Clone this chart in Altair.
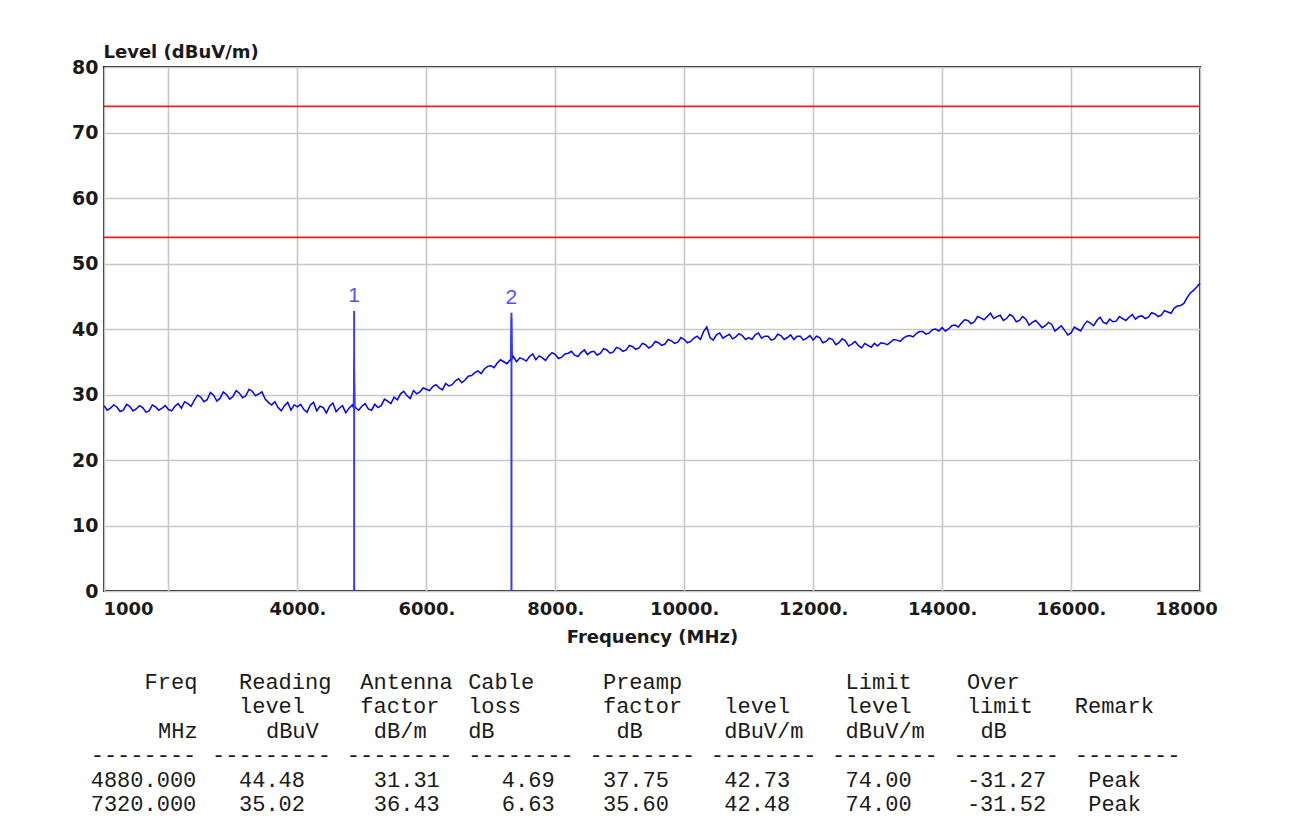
import altair as alt
import pandas as pd

# ---------------- data ----------------
sweep_start = 1000
sweep_step = 100
trace_level = [
    28.3, 27.9, 28.1, 27.6, 28.2, 27.8, 28.0, 27.5, 28.1, 27.9,   # 1000-1900
    27.7, 28.2, 27.9, 28.6, 29.1, 29.6, 29.2, 29.9, 29.4, 30.0,   # 2000-2900
    29.7, 30.2, 29.8, 30.5, 30.1, 29.3, 28.4, 28.0, 28.3, 27.6,   # 3000-3900
    28.1, 27.7, 28.4, 27.5, 28.0, 28.2, 27.4, 28.3, 27.9, 28.0,   # 4000-4900
    28.2, 27.8, 28.5, 28.3, 29.0, 29.6, 30.1, 29.8, 30.6, 30.4,   # 5000-5900
    30.8, 31.2, 31.0, 31.7, 31.5, 32.4, 32.2, 32.9, 33.6, 33.9,   # 6000-6900
    34.4, 34.8, 35.0, 35.3, 35.0, 35.4, 35.8, 35.3, 35.6, 35.9,   # 7000-7900
    36.1, 35.7, 36.3, 36.0, 36.4, 36.1, 36.6, 36.3, 36.8, 36.5,   # 8000-8900
    37.0, 36.8, 37.3, 37.1, 37.6, 37.4, 37.9, 37.7, 38.2, 38.0,   # 9000-9900
    38.4, 38.1, 38.9, 39.6, 38.7, 39.1, 38.6, 39.2, 38.8, 39.0,   # 10000-10900
    38.7, 39.1, 38.6, 38.9, 38.5, 39.0, 38.7, 38.4, 38.9, 38.6,   # 11000-11900
    38.3, 38.7, 38.1, 38.4, 37.9, 38.2, 37.7, 37.5, 37.8, 37.2,   # 12000-12900
    37.4, 37.8, 38.0, 38.3, 38.6, 39.0, 39.3, 39.6, 39.4, 40.0,   # 13000-13900
    40.2, 40.0, 40.6, 40.9, 41.3, 41.1, 41.7, 41.9, 41.6, 42.1,   # 14000-14900
    41.6, 41.9, 41.3, 41.5, 41.0, 40.8, 40.5, 40.7, 40.1, 39.8,   # 15000-15900
    39.4, 40.0, 40.6, 40.9, 41.3, 41.0, 41.5, 41.2, 41.6, 41.8,   # 16000-16900
    41.5, 42.0, 41.8, 42.3, 42.1, 42.6, 43.2, 43.6, 44.8, 45.9,   # 17000-17900
    47.0,                                                         # 18000
]
mid_start = 1050
trace_level_mid = [
    27.6, 28.4, 27.4, 28.5, 27.5, 28.3, 27.3, 28.4, 27.6, 28.3,   # 1050-1950
    27.5, 28.6, 28.9, 28.2, 29.9, 28.9, 30.3, 29.0, 30.4, 29.3,   # 2050-2950
    30.6, 29.5, 30.8, 29.8, 30.4, 28.8, 28.9, 27.5, 28.8, 28.4,   # 3050-3950
    28.5, 27.3, 28.8, 28.2, 27.2, 28.7, 27.9, 27.2, 28.4, 27.6,   # 4050-4950
    28.6, 27.6, 28.0, 29.3, 28.6, 29.2, 30.5, 29.4, 30.1, 31.0,   # 5050-5950
    30.6, 31.5, 30.7, 31.3, 32.1, 31.8, 32.8, 33.3, 33.2, 34.3,   # 6050-6950
    34.1, 35.3, 34.7, 35.8, 35.6, 35.1, 36.2, 35.9, 35.2, 36.4,   # 7050-7950
    35.5, 36.2, 36.6, 35.8, 36.8, 36.5, 36.0, 37.0, 36.3, 37.2,   # 8050-8950
    36.6, 37.5, 36.9, 37.8, 37.1, 38.1, 37.5, 38.4, 37.8, 38.7,   # 9050-9950
    37.9, 38.6, 38.4, 40.3, 38.3, 39.4, 38.9, 38.5, 39.3, 38.4,   # 10050-10950
    38.4, 39.4, 38.9, 38.3, 39.2, 38.4, 39.1, 38.9, 38.3, 39.0,   # 11050-11950
    38.9, 37.9, 38.6, 37.6, 38.5, 37.4, 38.1, 37.1, 37.5, 37.8,   # 12050-12950
    37.9, 37.6, 38.4, 38.1, 38.9, 38.8, 39.6, 39.2, 39.9, 39.7,   # 13050-13950
    39.7, 40.5, 40.3, 41.4, 40.8, 41.9, 41.4, 42.4, 41.9, 41.3,   # 14050-14950
    42.2, 41.1, 41.9, 40.6, 41.3, 40.2, 41.0, 39.7, 40.5, 39.1,   # 15050-15950
    40.3, 39.7, 41.2, 40.5, 41.8, 40.8, 41.1, 41.9, 41.3, 42.2,   # 16050-16950
    41.9, 41.6, 42.5, 41.9, 42.8, 42.4, 43.5, 43.9, 45.5, 46.4,   # 17050-17950
]
spike_freq = [4870, 4880, 4890, 7310, 7320, 7330]
spike_level = [28.0, 35.5, 28.2, 35.2, 41.7, 35.5]

marker_freq = [4880.0, 7320.0]
marker_level = [42.73, 42.48]
marker_label = ["1", "2"]

limit_level = [74.0, 54.0]

x_ticks = [1000, 2000, 4000, 6000, 8000, 10000, 12000, 14000, 16000, 18000]
x_tick_labels = ["1000", "", "4000.", "6000.", "8000.", "10000.", "12000.",
                 "14000.", "16000.", "18000"]
y_ticks = [0, 10, 20, 30, 40, 50, 60, 70, 80]

# table below the plot (text, character column) per row
table_rows = [
    [("Freq", 4), ("Reading", 11), ("Antenna", 20), ("Cable", 28), ("Preamp", 38),
     ("Limit", 56), ("Over", 65)],
    [("level", 11), ("factor", 20), ("loss", 28), ("factor", 38), ("level", 47),
     ("level", 56), ("limit", 65), ("Remark", 73)],
    [("MHz", 5), ("dBuV", 13), ("dB/m", 21), ("dB", 28), ("dB", 39), ("dBuV/m", 47),
     ("dBuV/m", 56), ("dB", 66)],
    [("--------", 0), ("---------", 9), ("--------", 19), ("--------", 28),
     ("--------", 37), ("--------", 46), ("--------", 55), ("--------", 64),
     ("--------", 73)],
    [("4880.000", 0), ("44.48", 11), ("31.31", 21), ("4.69", 30.5), ("37.75", 38),
     ("42.73", 47), ("74.00", 56), ("-31.27", 65), ("Peak", 74)],
    [("7320.000", 0), ("35.02", 11), ("36.43", 21), ("6.63", 30.5), ("35.60", 38),
     ("42.48", 47), ("74.00", 56), ("-31.52", 65), ("Peak", 74)],
]

# ---------------- layout ----------------
PLOT_W, PLOT_H = 1096, 524
TABLE_X0 = -13.3       # left of first character column, relative to plot
CHAR_W = 13.48
TABLE_Y0 = 615        # centre of the first table row, relative to plot top
ROW_H = 24.4

# ---------------- frames ----------------
trace = pd.DataFrame({
    "freq": [sweep_start + i * sweep_step for i in range(len(trace_level))]
            + [mid_start + i * sweep_step for i in range(len(trace_level_mid))]
            + spike_freq,
    "level": trace_level + trace_level_mid + spike_level,
}).sort_values("freq")

markers = pd.DataFrame({"freq": marker_freq, "level": marker_level,
                        "label": marker_label, "zero": [0.0] * len(marker_freq)})
limits = pd.DataFrame({"level": limit_level})

cells = []
for r, row in enumerate(table_rows):
    for text, col in row:
        cells.append({"text": text,
                      "px": TABLE_X0 + col * CHAR_W,
                      "py": TABLE_Y0 + r * ROW_H})
table = pd.DataFrame(cells)

label_expr = "".join(
    f"datum.value == {v} ? '{l}' : " for v, l in zip(x_ticks, x_tick_labels)
) + "''"

AXIS_FONT = "DejaVu Sans"

x_scale = alt.Scale(domain=[1000, 18000], nice=False, zero=False)
y_scale = alt.Scale(domain=[0, 80], nice=False)

x_axis = alt.Axis(
    values=x_ticks, labelExpr=label_expr, labelFlush=False,
    labelOffset={"expr": "datum.value == 1000 ? 24 : datum.value == 18000 ? -14 : 0"},
    labelFont=AXIS_FONT, labelFontWeight="bold", labelFontSize=18, labelColor="#1a1a1a",
    labelPadding=9, labelAlign="center", labelBaseline="top",
    ticks=False, tickSize=0, domain=False,
    grid=True, gridColor="#c8c8c8", gridWidth=1.6,
    title="Frequency (MHz)", titleFont=AXIS_FONT, titleFontWeight="bold",
    titleFontSize=18, titleColor="#1a1a1a", titleX=PLOT_W / 2, titleY=46,
    titleAlign="center", titleBaseline="middle",
)
y_axis = alt.Axis(
    values=y_ticks, format="d",
    labelFont=AXIS_FONT, labelFontWeight="bold", labelFontSize=19, labelColor="#1a1a1a",
    labelPadding=6, ticks=False, tickSize=0, domain=False,
    grid=True, gridColor="#c8c8c8", gridWidth=1.6,
    title="Level (dBuV/m)", titleFont=AXIS_FONT, titleFontWeight="bold",
    titleFontSize=18, titleColor="#1a1a1a", titleAngle=0, titleX=-1, titleY=-15,
    titleAlign="left", titleBaseline="middle",
)

line = alt.Chart(trace).mark_line(color="#0000ff", strokeWidth=1.5).encode(
    x=alt.X("freq:Q", scale=x_scale, axis=x_axis),
    y=alt.Y("level:Q", scale=y_scale, axis=y_axis),
)

limit_rules = alt.Chart(limits).mark_rule(color="#ff1a1a", strokeWidth=1.8).encode(
    y=alt.Y("level:Q", scale=y_scale, axis=None),
)

marker_rules = alt.Chart(markers).mark_rule(color="#3a3aff", strokeWidth=2).encode(
    x=alt.X("freq:Q", scale=x_scale, axis=None),
    y=alt.Y("zero:Q", scale=y_scale, axis=None),
    y2="level:Q",
)

marker_text = alt.Chart(markers).mark_text(
    font="Liberation Sans", fontSize=21, color="#5a4dff", dy=-15, baseline="middle"
).encode(
    x=alt.X("freq:Q", scale=x_scale, axis=None),
    y=alt.Y("level:Q", scale=y_scale, axis=None),
    text="label:N",
)

table_text = alt.Chart(table).mark_text(
    font="Liberation Mono", fontSize=22, color="#1a1a1a", align="left", baseline="middle"
).encode(
    x=alt.X("px:Q", scale=None, axis=None),
    y=alt.Y("py:Q", scale=None, axis=None),
    text="text:N",
)

chart = alt.layer(
    line, limit_rules, marker_rules, marker_text, table_text
).resolve_scale(x="independent", y="independent").properties(
    width=PLOT_W, height=PLOT_H,
    autosize=alt.AutoSizeParams(type="none"),
    padding={"left": 96, "top": 59, "right": 78, "bottom": 226},
    background="white",
).configure_view(stroke="#1a1a1a", strokeWidth=2)

chart.save("out.html", embed_options={"renderer": "svg", "actions": False})
